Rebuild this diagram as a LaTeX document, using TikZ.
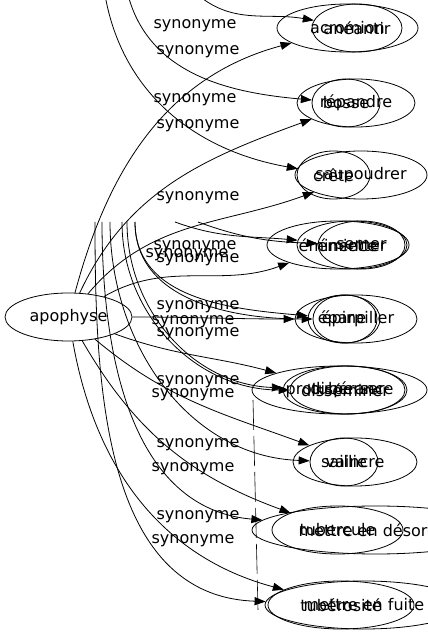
\documentclass[tikz,border=0pt]{standalone}
\usepackage{fontspec}
\setmainfont{DejaVu Sans}
\usetikzlibrary{arrows.meta,shapes.geometric}
\tikzset{
  ell/.style={draw, ellipse, inner sep=0pt, minimum height=48pt, line width=0.8pt},
  txt/.style={inner sep=0pt, font=\fontsize{16}{19}\selectfont},
  lab/.style={inner sep=0pt, font=\fontsize{16}{19}\selectfont},
  syn/.style={-{Triangle[length=11pt,width=8pt]}, line width=0.8pt},
  guide/.style={line width=0.6pt, dash pattern=on 30pt off 6pt}
}
\begin{document}
\begin{tikzpicture}[x=1pt,y=1pt]
\useasboundingbox (0,0) rectangle (428,635);
\clip (0,0) rectangle (428,635);
% central node
\node[ell, minimum width=127pt] (apo) at (68.5,318) {};
\node[txt] (apot) at (apo) {apophyse};
% row 1
\node[ell, minimum width=141pt] (r1a) at (347.5,607) {};
\node[ell, minimum width=90pt] (r1b) at (357,607) {};
\node[txt] (r1at) at (r1a) {acromion};
\node[txt] (r1bt) at (r1b) {anéantir};
% row 2
\node[ell, minimum width=68pt] (r2a) at (346,532) {};
\node[ell, minimum width=118pt] (r2b) at (356,532) {};
\node[txt] (r2at) at (r2a) {bosse};
\node[txt] (r2bt) at (r2b) {répandre};
% row 3
\node[ell, minimum width=73pt] (r3a) at (333.5,460) {};
\node[ell, minimum width=132pt] (r3b) at (361,460) {};
\node[txt] (r3at) at (r3a) {crête};
\node[txt] (r3bt) at (r3b) {saupoudrer};
% row 4
\node[ell, minimum width=142pt] (r4a) at (338,390) {};
\node[ell, minimum width=110pt] (r4b) at (352,390) {};
\node[ell, minimum width=87pt] (r4c) at (361.5,390) {};
\node[txt] (r4at) at (r4a) {éminence};
\node[txt] (r4bt) at (r4b) {émietter};
\node[txt] (r4ct) at (r4c) {semer};
% row 5
\node[ell, minimum width=122pt] (r5a) at (356,316) {};
\node[ell, minimum width=72pt] (r5b) at (344,316) {};
\node[ell, minimum width=64pt] (r5c) at (345,316) {};
\node[txt] (r5at) at (r5a) {éparpiller};
\node[txt] (r5bt) at (r5b) {épine};
% row 6
\node[ell, minimum width=175pt] (r6a) at (339.5,245) {};
\node[ell, minimum width=124pt] (r6b) at (345,245) {};
\node[ell, minimum width=115pt] (r6c) at (347.5,245) {};
\node[txt] (r6at) at (r6a) {protubérance};
\node[txt] (r6bt) at (r6b) {disséminer};
\node[txt] (r6ct) at (r6c) {disperser};
% row 7
\node[ell, minimum width=124pt] (r7a) at (355,173) {};
\node[ell, minimum width=68pt] (r7b) at (344,173) {};
\node[txt] (r7at) at (r7a) {vaincre};
\node[txt] (r7bt) at (r7b) {saillie};
% row 8
\node[ell, minimum width=248pt] (r8a) at (376,105) {};
\node[ell, minimum width=131pt] (r8b) at (337.5,105) {};
\node[txt] (r8at) at (r8a) {mettre en désordre};
\node[txt] (r8bt) at (r8b) {tubercule};
% row 9
\node[ell, minimum width=198pt] (r9a) at (364,30) {};
\node[ell, minimum width=146pt] (r9b) at (341,30) {};
\node[txt] (r9at) at (r9a) {mettre en fuite};
\node[txt] (r9bt) at (r9b) {tubérosité};
% free ends
\coordinate (s1) at (198,640);
\coordinate (s2) at (128,640);
\coordinate (s3) at (105,640);
\coordinate (c4a) at (175,413);
\coordinate (c4b) at (198,413);
\coordinate (v1) at (95,413);
\coordinate (v2) at (102,413);
\coordinate (v3) at (110,413);
\coordinate (v4) at (122,413);
\coordinate (v5) at (127,413);
\coordinate (v6) at (135,413);
\coordinate (d1) at (253,235);
\coordinate (d2) at (258,25);
% edges
\draw[syn] (s1) to[out=-40,in=170] (r1b);
\draw[syn] (apo) to[out=75,in=195] (r1a);
\draw[syn] (s2) to[out=-75,in=175] (r2a);
\draw[syn] (apo) to[out=65,in=200] (r2b);
\draw[syn] (s3) to[out=-80,in=170] (r3a);
\draw[syn] (apo) to[out=50,in=200] (r3b);
\draw[syn] (c4a) to[out=-20,in=175] (r4b);
\draw[syn] (c4b) to[out=-20,in=178] (r4c);
\draw[syn] (apo) to[out=30,in=200] (r4a);
\draw[syn] (apo) to[out=0,in=180] (r5a);
\draw[syn] (v6) to[out=-90,in=175] (r5b);
\draw[syn] (v6) to[out=-90,in=180] (r5c);
\draw[syn] (apo) to[out=-20,in=165] (r6a);
\draw[syn] (v5) to[out=-90,in=178] (r6b);
\draw[syn] (v4) to[out=-90,in=180] (r6c);
\draw[syn] (apo) to[out=-40,in=160] (r7a);
\draw[syn] (v3) to[out=-90,in=178] (r7b);
\draw[syn] (apo) to[out=-60,in=160] (r8b);
\draw[syn] (v2) to[out=-90,in=175] (r8a);
\draw[syn] (apo) to[out=-80,in=165] (r9b);
\draw[syn] (v1) to[out=-90,in=178] (r9a);
\draw[guide] (d1) -- (d2);
% labels
\node[lab] (l1) at (195,609) {synonyme};
\node[lab] (l2) at (198,583) {synonyme};
\node[lab] (l3) at (195,535) {synonyme};
\node[lab] (l4) at (198,509) {synonyme};
\node[lab] (l5) at (198,437) {synonyme};
\node[lab] (l6) at (195,388) {synonyme};
\node[lab] (l7) at (187,380) {synonyme};
\node[lab] (l8) at (198,375) {synonyme};
\node[lab] (l9) at (198,328) {synonyme};
\node[lab] (l10) at (193,313) {synonyme};
\node[lab] (l11) at (198,301) {synonyme};
\node[lab] (l12) at (198,253) {synonyme};
\node[lab] (l13) at (193,240) {synonyme};
\node[lab] (l14) at (198,190) {synonyme};
\node[lab] (l15) at (193,166) {synonyme};
\node[lab] (l16) at (198,118) {synonyme};
\node[lab] (l17) at (193,94) {synonyme};
\end{tikzpicture}
\end{document}
